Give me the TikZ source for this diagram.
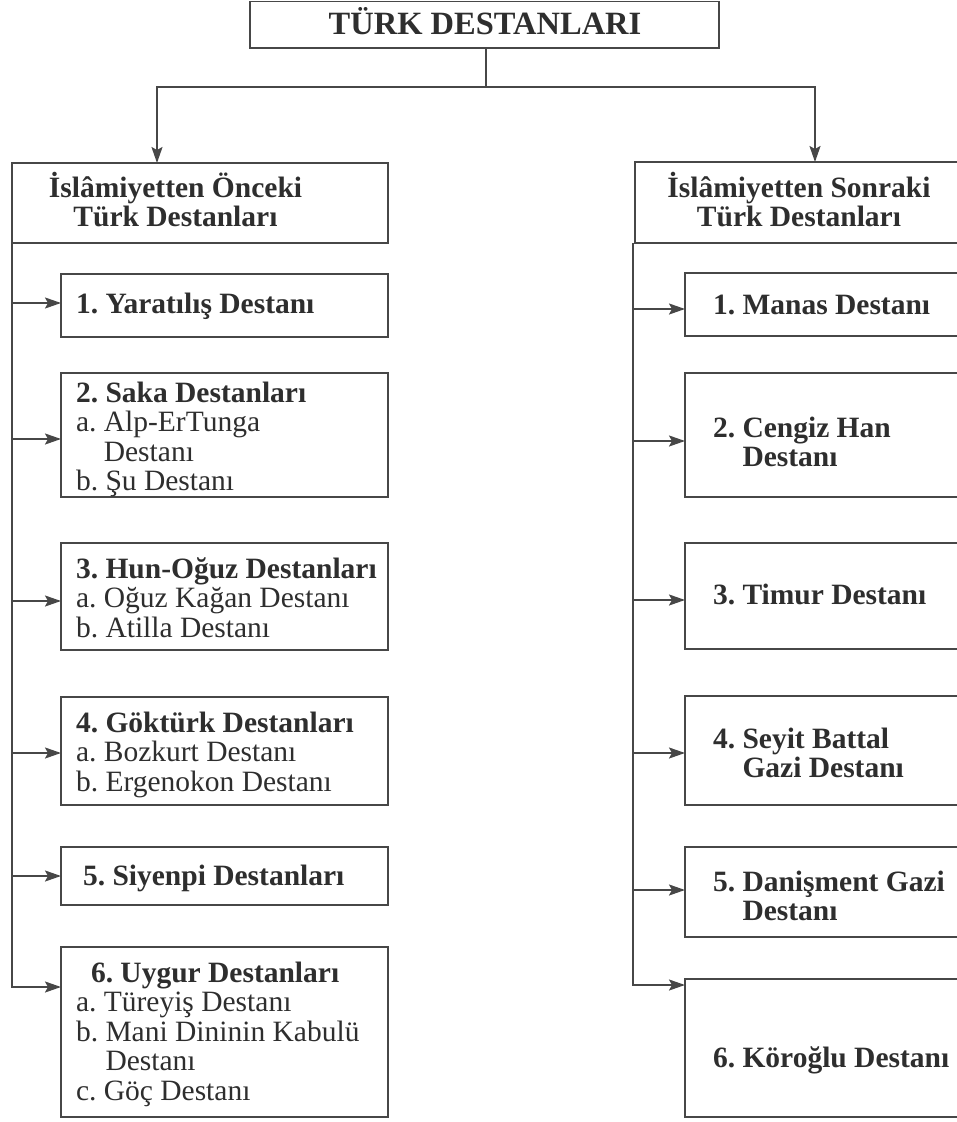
\documentclass[tikz,border=0pt]{standalone}
\usepackage{fontspec}
\setmainfont{Liberation Serif}
\usetikzlibrary{arrows.meta}
\definecolor{lc}{gray}{0.28}
\definecolor{tc}{gray}{0.18}
\newcommand{\mybox}[5]{\node[box,minimum width={#4-#2},minimum height={#5-#3}] (#1) at (#2,#3) {};}
\newcommand{\Lines}[1]{\vtop{\baselineskip=29.5pt\lineskiplimit=-1000pt\halign{##\hfil\cr#1\crcr}}}
\newcommand{\CLines}[1]{\vtop{\baselineskip=29.5pt\lineskiplimit=-1000pt\halign{\hfil##\hfil\cr#1\crcr}}}
\frenchspacing
\begin{document}
\begin{tikzpicture}[x=1pt,y=-1pt,
  every node/.style={inner sep=0pt,outer sep=0pt},
  box/.style={draw=lc,line width=1.9pt,anchor=north west},
  conn/.style={draw=lc,line width=1.9pt},
  arr/.style={conn,-{Stealth[length=16pt,width=11pt,inset=3pt]}},
  txt/.style={anchor=base west,text=tc,font=\fontsize{29.5}{29.5}\selectfont},
  ctxt/.style={anchor=base,text=tc,font=\fontsize{29.5}{29.5}\selectfont\bfseries},
]
\useasboundingbox (0,0) rectangle (956,1122);
% boxes
\mybox{top}{250}{1.5}{719}{48}
\mybox{lh}{12}{163}{388}{243}
\mybox{rh}{635}{162}{975}{243}
\mybox{b1}{61}{274}{388}{337}
\mybox{b2}{61}{373}{388}{497}
\mybox{b3}{61}{543}{388}{650}
\mybox{b4}{61}{697}{388}{805}
\mybox{b5}{61}{847}{388}{905}
\mybox{b6}{61}{947}{388}{1117}
\mybox{r1}{685}{273}{975}{336}
\mybox{r2}{685}{373}{975}{497}
\mybox{r3}{685}{543}{975}{649}
\mybox{r4}{685}{696}{975}{805}
\mybox{r5}{685}{847}{975}{937}
\mybox{r6}{685}{979}{975}{1117}
% texts
\node[ctxt,font=\fontsize{32.5}{32.5}\selectfont\bfseries] (topt) at (485,34) {TÜRK DESTANLARI};
\node[ctxt] (lht) at (175.5,197) {\CLines{İslâmiyetten Önceki\cr Türk Destanları}};
\node[ctxt] (rht) at (799,197) {\CLines{İslâmiyetten Sonraki\cr Türk Destanları}};
\node[txt] (b1t) at (76,313) {\textbf{1. Yaratılış Destanı}};
\node[txt] (b2t) at (76,402) {\Lines{\textbf{2. Saka Destanları}\cr a. Alp-ErTunga\cr \phantom{a. }Destanı\cr b. Şu Destanı}};
\node[txt] (b3t) at (76,578) {\Lines{\textbf{3. Hun-Oğuz Destanları}\cr a. Oğuz Kağan Destanı\cr b. Atilla Destanı}};
\node[txt] (b4t) at (76,732) {\Lines{\textbf{4. Göktürk Destanları}\cr a. Bozkurt Destanı\cr b. Ergenokon Destanı}};
\node[txt] (b5t) at (83,885) {\textbf{5. Siyenpi Destanları}};
\node[txt] (b6t) at (76,982) {\Lines{\hspace*{15pt}\textbf{6. Uygur Destanları}\cr a. Türeyiş Destanı\cr b. Mani Dininin Kabulü\cr \phantom{b. }Destanı\cr c. Göç Destanı}};
\node[txt] (r1t) at (713,314) {\textbf{1. Manas Destanı}};
\node[txt] (r2t) at (713,437) {\bfseries\Lines{2. Cengiz Han\cr \phantom{2. }Destanı}};
\node[txt] (r3t) at (713,604) {\textbf{3. Timur Destanı}};
\node[txt] (r4t) at (713,748) {\bfseries\Lines{4. Seyit Battal\cr \phantom{4. }Gazi Destanı}};
\node[txt] (r5t) at (713,891) {\bfseries\Lines{5. Danişment Gazi\cr \phantom{5. }Destanı}};
\node[txt] (r6t) at (713,1067) {\textbf{6. Köroğlu Destanı}};
% top connectors
\coordinate (j) at (486,87);
\coordinate (lx) at (157,0);
\coordinate (rx) at (815,0);
\draw[conn] (top.south -| j) -- (j);
\draw[arr] (j) -| (lh.north -| lx);
\draw[arr] (j) -| (rh.north -| rx);
% left trunk
\draw[arr] (lh.south west) -- (lh.south west |- 0,987) -- (b6.west |- 0,987);
\foreach \n/\y in {b1/303,b2/439,b3/601,b4/753,b5/876}
  \draw[arr] (lh.south west |- 0,\y) -- (\n.west |- 0,\y);
% right trunk
\coordinate (rt) at (633,243);
\draw[arr] (rt) -- (rt |- 0,985) -- (r6.west |- 0,985);
\foreach \n/\y in {r1/309,r2/441,r3/600,r4/753,r5/890}
  \draw[arr] (rt |- 0,\y) -- (\n.west |- 0,\y);
\end{tikzpicture}
\end{document}
